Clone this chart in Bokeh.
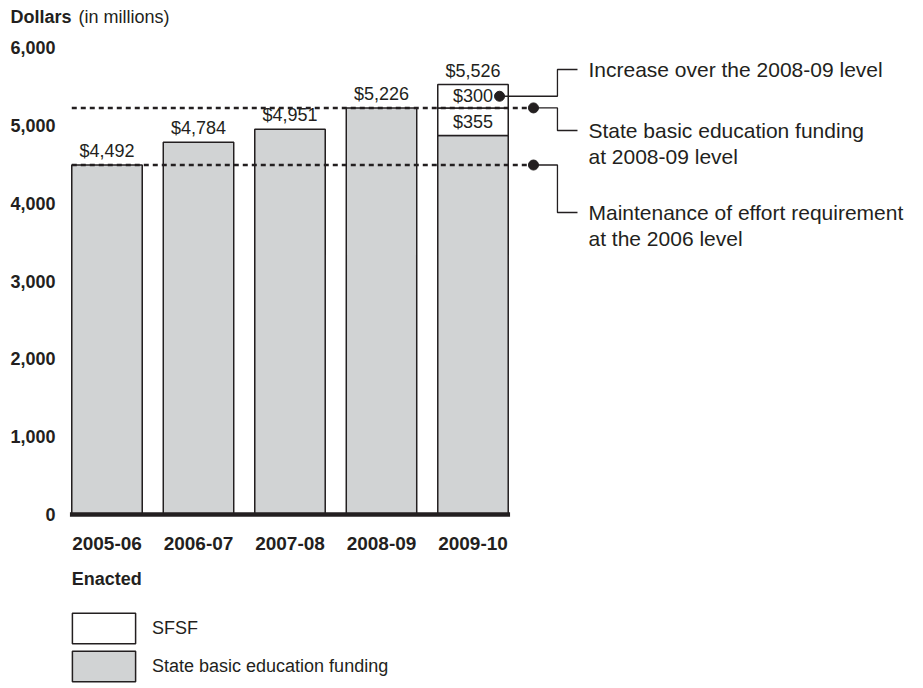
from bokeh.plotting import figure
from bokeh.models import (ColumnDataSource, FixedTicker, Legend, LegendItem,
                          NumeralTickFormatter, LinearAxis)
from bokeh.embed import file_html
from bokeh.resources import INLINE

# ---------------- data ----------------
years = ["2005-06", "2006-07", "2007-08", "2008-09", "2009-10"]
state_funding = [4492, 4784, 4951, 5226, 4871]
sfsf_to_0809 = [0, 0, 0, 0, 355]
sfsf_increase = [0, 0, 0, 0, 300]
moe_level = 4492          # maintenance of effort requirement at 2006 level
level_0809 = 5226         # state basic education funding at 2008-09 level
y_ticks = [0, 1000, 2000, 3000, 4000, 5000, 6000]

callout_texts = [
    ["Increase over the 2008-09 level"],
    ["State basic education funding", "at 2008-09 level"],
    ["Maintenance of effort requirement", "at the 2006 level"],
]

# ---------------- style ----------------
INK = "#231f20"
GRAY = "#d1d3d4"
FONT = "Liberation Sans"
FS = "18px"
BAR_W = 0.77

xs = list(range(len(years)))
totals = [s + a + b for s, a, b in zip(state_funding, sfsf_to_0809, sfsf_increase)]

p = figure(width=923, height=688, x_range=(-1.1639, 8.9235), y_range=(-2236.5, 6606.7),
           output_backend="svg", toolbar_location=None, x_axis_location=None,
           y_axis_location=None, min_border_left=0, min_border_right=0,
           min_border_top=0, min_border_bottom=0)
p.outline_line_color = None
p.xgrid.visible = False
p.ygrid.visible = False
p.background_fill_color = "white"
p.border_fill_color = "white"

# axes placed at fixed data locations inside the frame
yaxis = LinearAxis(fixed_location=-0.399, ticker=FixedTicker(ticks=y_ticks),
                   formatter=NumeralTickFormatter(format="0,0"))
xaxis = LinearAxis(fixed_location=0, ticker=FixedTicker(ticks=xs),
                   major_label_overrides={i: y for i, y in zip(xs, years)})
for ax in (xaxis, yaxis):
    ax.axis_line_color = None
    ax.major_tick_line_color = None
    ax.minor_tick_line_color = None
    ax.major_tick_out = 0
    ax.major_tick_in = 0
    ax.major_label_text_font = FONT
    ax.major_label_text_font_size = FS
    ax.major_label_text_font_style = "bold"
    ax.major_label_text_color = INK
xaxis.major_label_text_font_size = "19px"
yaxis.major_label_standoff = 15
xaxis.major_label_standoff = 22
p.add_layout(yaxis, "left")
p.add_layout(xaxis, "below")

# bars
state_r = p.vbar(x=xs, top=state_funding, bottom=0, width=BAR_W,
                 fill_color=GRAY, line_color=INK, line_width=1.5)

sf_idx = [i for i in xs if sfsf_to_0809[i] + sfsf_increase[i] > 0]
seg_x, seg_bottom, seg_top, seg_lbl, seg_mid = [], [], [], [], []
for i in sf_idx:
    b0 = state_funding[i]
    for part in (sfsf_to_0809[i], sfsf_increase[i]):
        seg_x.append(i)
        seg_bottom.append(b0)
        seg_top.append(b0 + part)
        seg_mid.append(b0 + part / 2)
        seg_lbl.append(f"${part:,}")
        b0 += part
sfsf_src = ColumnDataSource(dict(x=seg_x, bottom=seg_bottom, top=seg_top))
sfsf_r = p.vbar(x="x", top="top", bottom="bottom", width=BAR_W, source=sfsf_src,
                fill_color="white", line_color=INK, line_width=1.5)

# baseline
p.segment(x0=[xs[0] - BAR_W / 2 - 0.02], y0=[0], x1=[xs[-1] + BAR_W / 2 + 0.02], y1=[0],
          line_color=INK, line_width=4.5)

# reference dashed levels
DOT_X = 4.661
levels = [level_0809, moe_level]
p.segment(x0=[xs[0] - BAR_W / 2] * 2, y0=levels, x1=[DOT_X] * 2, y1=levels,
          line_color=INK, line_width=2.5, line_dash="5 4")

# value labels
p.text(x=xs, y=totals, text=[f"${v:,}" for v in totals], text_align="center",
       text_baseline="bottom", y_offset=-4, text_font={"value": FONT},
       text_font_size=FS, text_color=INK)
p.text(x=seg_x, y=seg_mid, text=seg_lbl, text_align="center", text_baseline="middle",
       text_font={"value": FONT}, text_font_size=FS, text_color=INK)

# callouts
inc_dot_x = 4.29
inc_dot_y = seg_mid[-1]
VX, EX, TX = 4.923, 5.142, 5.262
callout_y = [5720, 4936, 3882]
line_gap = 334
p.scatter(x=[inc_dot_x, DOT_X, DOT_X], y=[inc_dot_y] + levels, size=10,
          fill_color=INK, line_color=INK)
starts = [(inc_dot_x, inc_dot_y), (DOT_X, level_0809), (DOT_X, moe_level)]
p.multi_line(xs=[[sx, VX, VX, EX] for sx, _ in starts],
             ys=[[sy, sy, cy, cy] for (_, sy), cy in zip(starts, callout_y)],
             line_color=INK, line_width=1.3)
tx, ty, tt = [], [], []
for cy, lines in zip(callout_y, callout_texts):
    for k, t in enumerate(lines):
        tx.append(TX)
        ty.append(cy - k * line_gap)
        tt.append(t)
p.text(x=tx, y=ty, text=tt, text_align="left", text_baseline="middle",
       text_font={"value": FONT}, text_font_size="21px", text_color=INK)

# axis title
p.text(x=[-1.055], y=[6401], text=["Dollars"], text_font={"value": FONT}, text_font_size=FS,
       text_font_style="bold", text_color=INK, text_baseline="middle")
p.text(x=[-0.311], y=[6401], text=["(in millions)"], text_font={"value": FONT},
       text_font_size=FS, text_color=INK, text_baseline="middle")

# "Enacted" heading under the category labels
p.text(x=[xs[0] - BAR_W / 2], y=[-835], text=["Enacted"], text_font={"value": FONT},
       text_font_size=FS, text_font_style="bold", text_color=INK,
       text_baseline="middle", text_align="left")

# legend (legend glyph boxes are drawn at 80% of the glyph area)
legend = Legend(items=[LegendItem(label="SFSF", renderers=[sfsf_r]),
                       LegendItem(label="State basic education funding", renderers=[state_r])],
                location=(64, 3), orientation="vertical",
                glyph_width=79, glyph_height=38, label_standoff=9, spacing=0,
                padding=0, margin=0,
                label_text_font=FONT, label_text_font_size=FS,
                label_text_color=INK, border_line_color=None, background_fill_alpha=0)
p.add_layout(legend, "center")

open("out.html", "w").write(file_html(p, INLINE))
